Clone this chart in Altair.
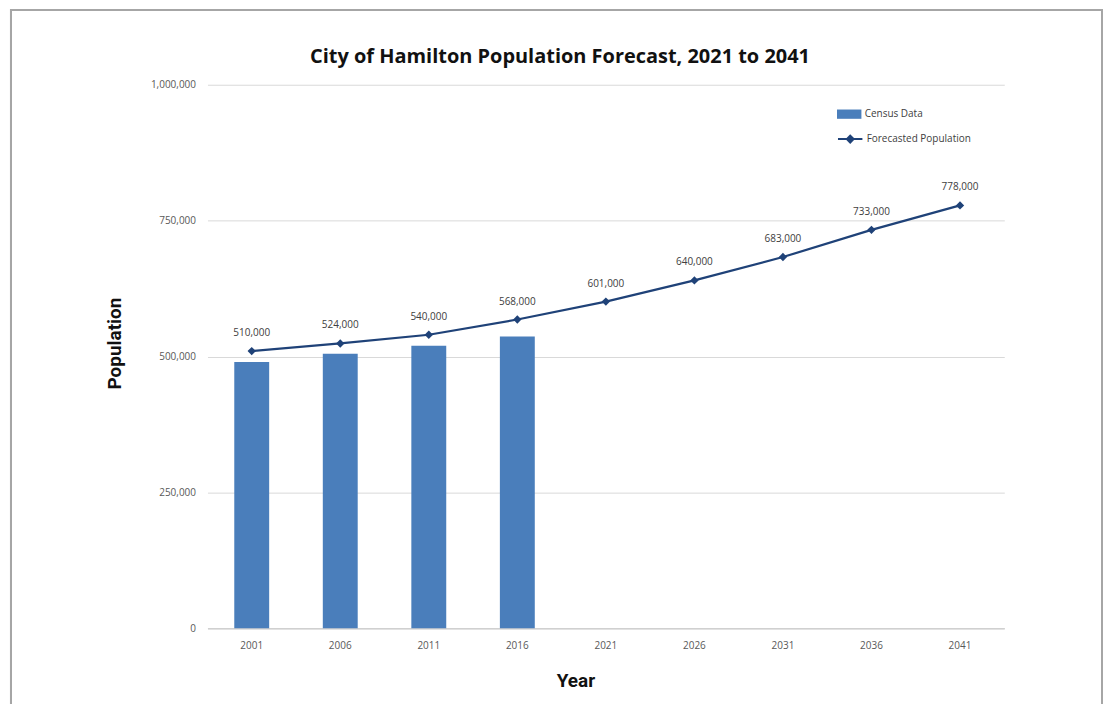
import altair as alt
import pandas as pd

years = ["2001", "2006", "2011", "2016", "2021", "2026", "2031", "2036", "2041"]
census_years = ["2001", "2006", "2011", "2016"]
census_values = [490000, 505000, 520000, 537000]
forecast_values = [510000, 524000, 540000, 568000, 601000, 640000, 683000, 733000, 778000]
y_ticks = [0, 250000, 500000, 750000, 1000000]

census = pd.DataFrame({"Year": census_years, "Population": census_values, "Series": "Census Data"})
forecast = pd.DataFrame({"Year": years, "Population": forecast_values, "Series": "Forecasted Population"})

BAR = "#4A7EBB"
LINE = "#1F4278"
LABEL = "#595959"
FONT = "Open Sans"

x_enc = alt.X(
    "Year:O",
    sort=years,
    scale=alt.Scale(domain=years, paddingInner=0.6, paddingOuter=0.3),
    axis=alt.Axis(
        title="Year", titleFont="Roboto", titleFontSize=19, titleFontWeight="bold",
        titleColor="#111111", titleX=369, titleY=52, titleBaseline="middle",
        labelAngle=0, labelFont=FONT, labelFontSize=10, labelColor=LABEL,
        labelPadding=12, ticks=False, domainColor="#D0D0D0", domainWidth=1.5,
    ),
)
y_enc = alt.Y(
    "Population:Q",
    scale=alt.Scale(domain=[0, 1000000], nice=False),
    axis=alt.Axis(
        title="Population", titleFont="Roboto", titleFontSize=19, titleFontWeight="bold",
        titleColor="#111111", titleX=-93, titleY=259, titleAngle=-90,
        titleAlign="center", titleBaseline="middle",
        values=y_ticks, format=",.0f", labelFont=FONT, labelFontSize=10,
        labelColor=LABEL, labelPadding=12, ticks=False, domain=False,
        gridColor="#D9D9D9", gridWidth=1,
    ),
)

bars = alt.Chart(census).mark_bar(size=35).encode(
    x=x_enc,
    y=y_enc,
    color=alt.Color(
        "Series:N",
        scale=alt.Scale(domain=["Census Data"], range=[BAR]),
        legend=alt.Legend(
            title=None, orient="none", legendX=631, legendY=17,
            symbolType="M-1,-0.38H1V0.38H-1Z", symbolSize=600,
            symbolStrokeWidth=0, labelFont=FONT, labelFontSize=10,
            labelColor="#404040", labelOffset=3,
        ),
    ),
)

line = alt.Chart(forecast).mark_line(
    strokeWidth=2.2,
    point=alt.OverlayMarkDef(shape="diamond", size=70, filled=True, color=LINE),
).encode(
    x=alt.X("Year:O", sort=years),
    y="Population:Q",
    color=alt.Color(
        "Series:N",
        scale=alt.Scale(domain=["Forecasted Population"], range=[LINE]),
        legend=alt.Legend(
            title=None, orient="none", legendX=631, legendY=41,
            symbolType="M-1,0H1M-0.28,0L0,-0.28L0.28,0L0,0.28Z", symbolSize=600,
            symbolStrokeWidth=2, symbolFillColor=LINE, symbolStrokeColor=LINE,
            labelFont=FONT, labelFontSize=10, labelColor="#404040", labelOffset=3,
        ),
    ),
)

labels = alt.Chart(forecast).mark_text(
    dy=-18, font=FONT, fontSize=10, color="#404040"
).encode(
    x=alt.X("Year:O", sort=years),
    y="Population:Q",
    text=alt.Text("Population:Q", format=","),
)

frame = alt.Chart(census).mark_rect(
    fill="transparent", stroke="#A6A6A6", strokeWidth=2, clip=False
).encode(
    x=alt.value(-197), x2=alt.value(897), y=alt.value(-75), y2=alt.value(640),
)

chart = alt.layer(frame, bars, line, labels).resolve_scale(
    color="independent"
).resolve_legend(color="independent").properties(
    width=799,
    height=545,
    padding={"left": 200, "top": 76, "right": 101, "bottom": 75},
    autosize=alt.AutoSizeParams(type="none"),
    background="white",
    title=alt.Title(
        "City of Hamilton Population Forecast, 2021 to 2041",
        font=FONT, fontSize=20, fontWeight="bold", color="#111111",
        anchor="middle", frame="group", dx=-46, offset=0, dy=58,
    ),
).configure_view(strokeWidth=0)

chart.save("out.html", embed_options={"renderer": "svg", "actions": False})
